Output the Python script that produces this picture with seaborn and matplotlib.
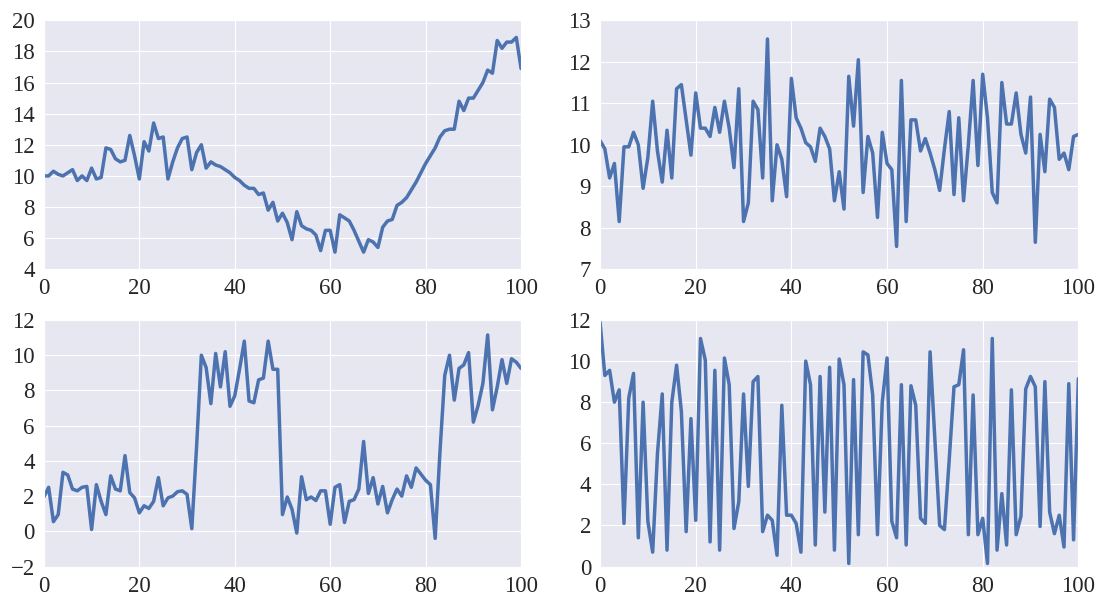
import matplotlib
matplotlib.use("Agg")
import matplotlib.pyplot as plt
import numpy as np
import seaborn as sns

# sample index shared by all four panels
steps = list(range(101))

# top left: slow drift down then up
walk = [10.0, 10.0, 10.3, 10.1, 10.0, 10.2, 10.4, 9.7, 10.0, 9.7,
        10.5, 9.8, 9.9, 11.8, 11.7, 11.1, 10.9, 11.0, 12.6, 11.3,
        9.8, 12.2, 11.6, 13.4, 12.4, 12.5, 9.8, 10.9, 11.8, 12.4,
        12.5, 10.4, 11.5, 12.0, 10.5, 10.9, 10.7, 10.6, 10.4, 10.2,
        9.9, 9.7, 9.4, 9.2, 9.2, 8.8, 8.9, 7.8, 8.3, 7.1,
        7.6, 7.0, 5.9, 7.7, 6.8, 6.6, 6.5, 6.2, 5.2, 6.5,
        6.5, 5.1, 7.5, 7.3, 7.1, 6.5, 5.8, 5.1, 5.9, 5.75,
        5.4, 6.7, 7.1, 7.2, 8.1, 8.3, 8.6, 9.1, 9.6, 10.2,
        10.8, 11.3, 11.8, 12.5, 12.9, 13.0, 13.0, 14.8, 14.2, 15.0,
        15.0, 15.5, 16.0, 16.8, 16.6, 18.7, 18.2, 18.6, 18.6, 18.9,
        16.9]

# top right: noise around 10
noise = [10.1, 9.9, 9.2, 9.55, 8.15, 9.95, 9.95, 10.3, 10.0, 8.95,
         9.7, 11.05, 9.85, 9.1, 10.35, 9.2, 11.35, 11.45, 10.6, 9.75,
         11.25, 10.4, 10.4, 10.2, 10.9, 10.3, 11.05, 10.4, 9.45, 11.35,
         8.15, 8.6, 11.05, 10.85, 9.2, 12.55, 8.65, 10.0, 9.65, 8.75,
         11.6, 10.65, 10.4, 10.05, 9.95, 9.6, 10.4, 10.2, 9.9, 8.65,
         9.35, 8.45, 11.65, 10.45, 12.05, 8.85, 10.2, 9.8, 8.25, 10.3,
         9.55, 9.4, 7.55, 11.55, 8.15, 10.6, 10.6, 9.85, 10.15, 9.8,
         9.4, 8.9, 9.9, 10.8, 8.8, 10.65, 8.65, 10.0, 11.55, 9.5,
         11.7, 10.65, 8.85, 8.6, 11.5, 10.5, 10.5, 11.25, 10.25, 9.8,
         11.15, 7.65, 10.25, 9.35, 11.1, 10.9, 9.65, 9.8, 9.4, 10.2,
         10.25]

# bottom left: regime switching
regimes = [1.95, 2.5, 0.55, 0.95, 3.35, 3.2, 2.4, 2.3, 2.5, 2.55,
           0.1, 2.65, 1.7, 0.95, 3.15, 2.4, 2.3, 4.3, 2.2, 1.9,
           1.05, 1.45, 1.3, 1.7, 3.05, 1.45, 1.9, 2.0, 2.25, 2.3,
           2.1, 0.15, 4.8, 10.0, 9.3, 7.25, 10.1, 8.2, 10.2, 7.1,
           7.7, 9.2, 10.8, 7.4, 7.3, 8.6, 8.7, 10.8, 9.2, 9.2,
           0.95, 1.95, 1.25, -0.1, 3.1, 1.8, 1.95, 1.75, 2.3, 2.3,
           0.4, 2.5, 2.65, 0.5, 1.7, 1.8, 2.4, 5.1, 2.15, 3.05,
           1.55, 2.55, 1.05, 1.8, 2.4, 2.0, 3.15, 2.5, 3.6, 3.25,
           2.9, 2.65, -0.4, 4.5, 8.85, 10.0, 7.45, 9.25, 9.45, 10.15,
           6.2, 7.15, 8.4, 11.15, 6.9, 8.2, 9.75, 8.4, 9.8, 9.6,
           9.25]

# bottom right: jumping between high and low
jumps = [11.9, 9.3, 9.55, 8.0, 8.6, 2.1, 8.2, 9.4, 1.4, 8.0,
         2.2, 0.7, 5.5, 8.4, 0.8, 8.0, 9.8, 7.55, 1.7, 7.2,
         2.25, 11.1, 10.05, 1.2, 9.55, 0.8, 10.15, 8.85, 1.85, 3.15,
         8.4, 3.9, 9.0, 9.25, 1.7, 2.5, 2.25, 0.55, 7.85, 2.5,
         2.5, 2.1, 0.7, 10.0, 8.85, 1.05, 9.25, 2.65, 9.7, 0.8,
         10.1, 8.85, 0.15, 9.1, 1.55, 10.45, 10.3, 8.35, 1.55, 8.0,
         10.15, 2.2, 1.4, 8.85, 1.05, 8.8, 7.85, 2.35, 2.1, 10.45,
         6.2, 2.0, 1.8, 5.2, 8.75, 8.85, 10.55, 1.55, 8.35, 1.55,
         2.35, 0.15, 11.1, 0.8, 3.55, 1.05, 8.6, 1.55, 2.45, 8.65,
         9.25, 8.75, 1.95, 9.0, 2.65, 1.6, 2.5, 0.95, 8.9, 1.3,
         9.15]

panels = [
    (walk, (4, 20), np.arange(4, 21, 2)),
    (noise, (7, 13), np.arange(7, 14, 1)),
    (regimes, (-2, 12), np.arange(-2, 13, 2)),
    (jumps, (0, 12), np.arange(0, 13, 2)),
]

sns.set_style("darkgrid", {"axes.facecolor": "#E6E7F1", "grid.linewidth": 1.6})
plt.rcParams['font.family'] = ['Liberation Serif', 'DejaVu Serif']

fig = plt.figure(figsize=(10.97, 5.97), dpi=100)
boxes = [
    [0.040, 0.549, 0.435, 0.417],
    [0.547, 0.549, 0.436, 0.417],
    [0.040, 0.051, 0.435, 0.413],
    [0.547, 0.051, 0.436, 0.413],
]

for box, (vals, ylim, yticks) in zip(boxes, panels):
    ax = fig.add_axes(box)
    sns.lineplot(x=steps, y=vals, ax=ax, color='#4c72b0', linewidth=2.5)
    ax.set_xlim(0, 100)
    ax.set_ylim(*ylim)
    ax.set_yticks(yticks)
    ax.set_xticks([0, 20, 40, 60, 80, 100])
    ax.tick_params(labelsize=16.5, pad=3)

fig.savefig('out.png', dpi=100)
